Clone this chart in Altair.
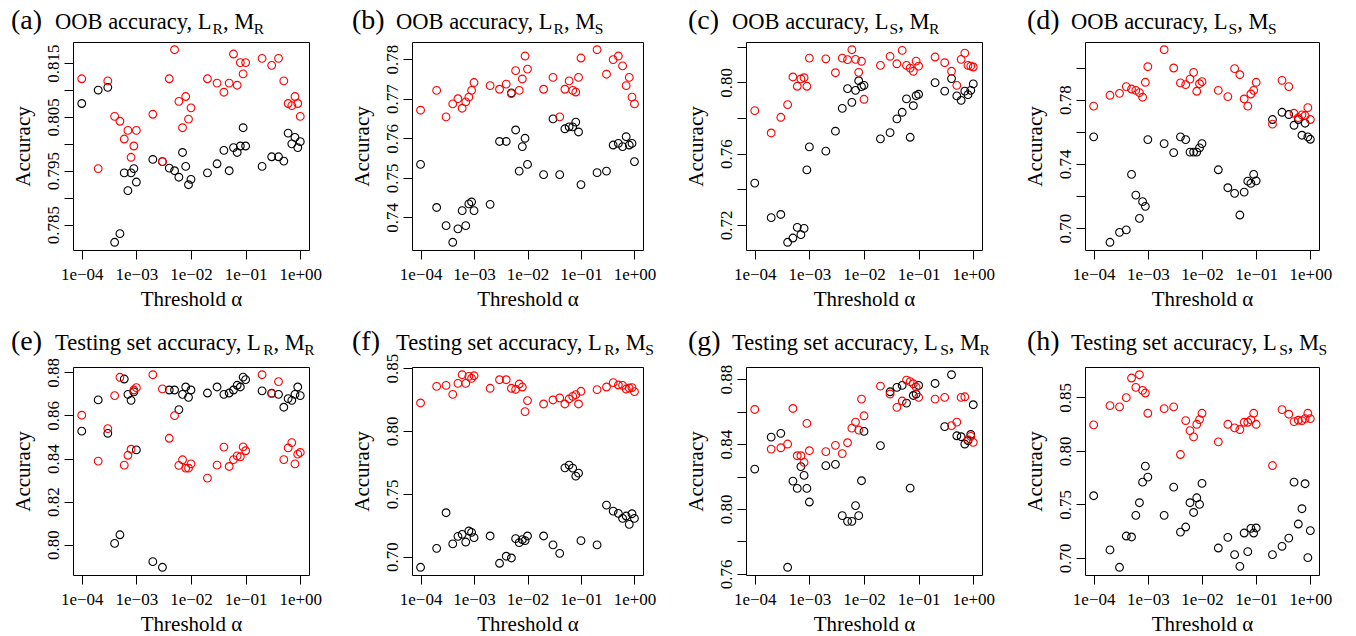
import math
import altair as alt
import pandas as pd

# ---------------- data ----------------
ALPHA = [0.0001, 0.0002, 0.0003, 0.0004, 0.0005, 0.0006, 0.0007, 0.0008, 0.0009,
         0.001, 0.002, 0.003, 0.004, 0.005, 0.006, 0.007, 0.008, 0.009,
         0.01, 0.02, 0.03, 0.04, 0.05, 0.06, 0.07, 0.08, 0.09,
         0.1, 0.2, 0.3, 0.4, 0.5, 0.6, 0.7, 0.8, 0.9, 1.0]

A_BLACK = [0.8075, 0.8100, 0.8105, 0.7817, 0.7833, 0.7946, 0.7913, 0.7946, 0.7954, 0.7929,
           0.7971, 0.7967, 0.7955, 0.7950, 0.7938, 0.7984, 0.7958, 0.7924, 0.7934,
           0.7946, 0.7963, 0.7988, 0.7950, 0.7993, 0.7984, 0.7996, 0.8030, 0.7996,
           0.7958, 0.7976, 0.7976, 0.7968, 0.8020, 0.8000, 0.8012, 0.7993, 0.8004]
A_RED = [0.8121, 0.7954, 0.8117, 0.8051, 0.8042, 0.8009, 0.8025, 0.7975, 0.7996, 0.8025,
         0.8055, 0.7967, 0.8121, 0.8175, 0.8079, 0.8030, 0.8088, 0.8046, 0.8067,
         0.8121, 0.8113, 0.8096, 0.8113, 0.8167, 0.8109, 0.8151, 0.8130, 0.8151,
         0.8159, 0.8146, 0.8159, 0.8117, 0.8075, 0.8071, 0.8088, 0.8075, 0.8051]
B_BLACK = [0.7534, 0.7425, 0.7379, 0.7337, 0.7371, 0.7417, 0.7379, 0.7434, 0.7439, 0.7417,
           0.7433, 0.7592, 0.7592, 0.7715, 0.7621, 0.7517, 0.7579, 0.7600, 0.7534,
           0.7508, 0.7649, 0.7508, 0.7624, 0.7629, 0.7629, 0.7641, 0.7616, 0.7483,
           0.7513, 0.7517, 0.7583, 0.7587, 0.7579, 0.7604, 0.7583, 0.7587, 0.7541]
B_RED = [0.7671, 0.7721, 0.7654, 0.7687, 0.7700, 0.7676, 0.7692, 0.7704, 0.7721, 0.7741,
         0.7733, 0.7724, 0.7737, 0.7713, 0.7771, 0.7721, 0.7750, 0.7808, 0.7775,
         0.7724, 0.7754, 0.7654, 0.7724, 0.7745, 0.7721, 0.7717, 0.7754, 0.7803,
         0.7824, 0.7762, 0.7799, 0.7808, 0.7783, 0.7733, 0.7754, 0.7704, 0.7687]
C_BLACK = [0.7435, 0.7241, 0.7259, 0.7103, 0.7127, 0.7187, 0.7146, 0.7181, 0.7509, 0.7638,
           0.7614, 0.7726, 0.7854, 0.7965, 0.7888, 0.7955, 0.8009, 0.7976, 0.7983,
           0.7683, 0.7718, 0.7795, 0.7832, 0.7907, 0.7692, 0.7869, 0.7925, 0.7933,
           0.7998, 0.7951, 0.8021, 0.7924, 0.7899, 0.7951, 0.7931, 0.7955, 0.7991]
C_RED = [0.7841, 0.7716, 0.7804, 0.7875, 0.8030, 0.7978, 0.8019, 0.8026, 0.7978, 0.8136,
         0.8132, 0.8054, 0.8136, 0.8127, 0.8183, 0.8129, 0.8056, 0.8118, 0.7905,
         0.8095, 0.8146, 0.8104, 0.8179, 0.8095, 0.8080, 0.8062, 0.8119, 0.8091,
         0.8142, 0.8110, 0.8062, 0.7983, 0.8129, 0.8164, 0.8095, 0.8091, 0.8086]
D_BLACK = [0.7568, 0.6911, 0.6973, 0.6988, 0.7334, 0.7205, 0.7060, 0.7164, 0.7135, 0.7551,
           0.7526, 0.7470, 0.7568, 0.7551, 0.7473, 0.7473, 0.7473, 0.7499, 0.7526,
           0.7363, 0.7251, 0.7216, 0.7081, 0.7224, 0.7292, 0.7278, 0.7334, 0.7294,
           0.7676, 0.7721, 0.7707, 0.7640, 0.7676, 0.7578, 0.7653, 0.7568, 0.7553]
D_RED = [0.7759, 0.7827, 0.7839, 0.7881, 0.7866, 0.7858, 0.7844, 0.7815, 0.7908, 0.8005,
         0.8111, 0.7997, 0.7904, 0.7893, 0.7928, 0.7970, 0.7852, 0.7899, 0.7912,
         0.7858, 0.7819, 0.7993, 0.7955, 0.7804, 0.7759, 0.7835, 0.7858, 0.7908,
         0.7647, 0.7920, 0.7881, 0.7715, 0.7688, 0.7705, 0.7701, 0.7750, 0.7676]
E_BLACK = [0.8527, 0.8672, 0.8517, 0.8006, 0.8046, 0.8769, 0.8698, 0.8670, 0.8709, 0.8440,
           0.7921, 0.7895, 0.8718, 0.8718, 0.8627, 0.8698, 0.8732, 0.8684, 0.8718,
           0.8704, 0.8732, 0.8698, 0.8704, 0.8718, 0.8740, 0.8732, 0.8778, 0.8766,
           0.8714, 0.8703, 0.8698, 0.8638, 0.8678, 0.8670, 0.8698, 0.8732, 0.8692]
E_RED = [0.8601, 0.8388, 0.8539, 0.8692, 0.8777, 0.8369, 0.8415, 0.8443, 0.8718, 0.8729,
         0.8789, 0.8723, 0.8494, 0.8599, 0.8368, 0.8394, 0.8355, 0.8355, 0.8375,
         0.8309, 0.8369, 0.8453, 0.8363, 0.8395, 0.8412, 0.8408, 0.8454, 0.8436,
         0.8789, 0.8701, 0.8757, 0.8395, 0.8449, 0.8474, 0.8375, 0.8420, 0.8428]
F_BLACK = [0.6915, 0.7066, 0.7349, 0.7101, 0.7161, 0.7177, 0.7116, 0.7204, 0.7193, 0.7151,
           0.7164, 0.6947, 0.7003, 0.6989, 0.7143, 0.7111, 0.7135, 0.7127, 0.7164,
           0.7164, 0.7093, 0.7026, 0.7706, 0.7728, 0.7704, 0.7640, 0.7664, 0.7127,
           0.7093, 0.7410, 0.7362, 0.7344, 0.7304, 0.7323, 0.7257, 0.7341, 0.7304]
F_RED = [0.8222, 0.8354, 0.8362, 0.8291, 0.8378, 0.8447, 0.8378, 0.8434, 0.8418, 0.8439,
         0.8339, 0.8407, 0.8407, 0.8339, 0.8331, 0.8373, 0.8349, 0.8153, 0.8241,
         0.8214, 0.8246, 0.8262, 0.8214, 0.8254, 0.8275, 0.8288, 0.8214, 0.8315,
         0.8328, 0.8349, 0.8384, 0.8365, 0.8362, 0.8333, 0.8341, 0.8344, 0.8312]
G_BLACK = [0.8246, 0.8443, 0.8466, 0.7641, 0.8172, 0.8127, 0.8261, 0.8207, 0.8127, 0.8043,
           0.8267, 0.8275, 0.7959, 0.7924, 0.7924, 0.8021, 0.7959, 0.8174, 0.8478,
           0.8390, 0.8722, 0.8749, 0.8761, 0.8652, 0.8129, 0.8699, 0.8708, 0.8761,
           0.8773, 0.8507, 0.8827, 0.8451, 0.8445, 0.8400, 0.8421, 0.8459, 0.8642]
G_RED = [0.8613, 0.8369, 0.8377, 0.8400, 0.8619, 0.8328, 0.8328, 0.8287, 0.8527, 0.8359,
         0.8353, 0.8392, 0.8341, 0.8408, 0.8498, 0.8535, 0.8486, 0.8677, 0.8574,
         0.8757, 0.8708, 0.8626, 0.8665, 0.8794, 0.8784, 0.8771, 0.8751, 0.8687,
         0.8677, 0.8687, 0.8513, 0.8535, 0.8687, 0.8691, 0.8427, 0.8447, 0.8410]
H_BLACK = [0.7581, 0.7075, 0.6913, 0.7205, 0.7196, 0.7398, 0.7516, 0.7708, 0.7857, 0.7755,
           0.7398, 0.7661, 0.7242, 0.7289, 0.7516, 0.7425, 0.7562, 0.7500, 0.7696,
           0.7093, 0.7193, 0.7031, 0.6922, 0.7233, 0.7059, 0.7276, 0.7233, 0.7280,
           0.7031, 0.7109, 0.7186, 0.7708, 0.7317, 0.7460, 0.7693, 0.7003, 0.7255]
H_RED = [0.8242, 0.8422, 0.8410, 0.8497, 0.8680, 0.8593, 0.8711, 0.8565, 0.8540, 0.8351,
         0.8394, 0.8410, 0.7966, 0.8283, 0.8189, 0.8130, 0.8248, 0.8292, 0.8351,
         0.8084, 0.8248, 0.8214, 0.8199, 0.8267, 0.8267, 0.8289, 0.8351, 0.8248,
         0.7863, 0.8385, 0.8342, 0.8273, 0.8286, 0.8283, 0.8301, 0.8351, 0.8301]

LETTERS = ["(a)", "(b)", "(c)", "(d)", "(e)", "(f)", "(g)", "(h)"]
KINDS = ["OOB accuracy", "OOB accuracy", "OOB accuracy", "OOB accuracy",
         "Testing set accuracy", "Testing set accuracy", "Testing set accuracy", "Testing set accuracy"]
L_SUB = ["R", "R", "S", "S", "R", "R", "S", "S"]
M_SUB = ["R", "S", "R", "S", "R", "S", "R", "S"]

Y_TICKS = [
    [0.785, 0.790, 0.795, 0.800, 0.805, 0.810, 0.815],
    [0.74, 0.75, 0.76, 0.77, 0.78],
    [0.72, 0.74, 0.76, 0.78, 0.80, 0.82],
    [0.70, 0.72, 0.74, 0.76, 0.78, 0.80],
    [0.80, 0.82, 0.84, 0.86, 0.88],
    [0.70, 0.75, 0.80, 0.85],
    [0.76, 0.78, 0.80, 0.82, 0.84, 0.86, 0.88],
    [0.70, 0.75, 0.80, 0.85],
]
Y_LABELS = [
    ["0.785", "", "0.795", "", "0.805", "", "0.815"],
    ["0.74", "0.75", "0.76", "0.77", "0.78"],
    ["0.72", "", "0.76", "", "0.80", ""],
    ["0.70", "", "0.74", "", "0.78", ""],
    ["0.80", "0.82", "0.84", "0.86", "0.88"],
    ["0.70", "0.75", "0.80", "0.85"],
    ["0.76", "", "0.80", "", "0.84", "", "0.88"],
    ["0.70", "0.75", "0.80", "0.85"],
]
X_TICKS = [0.0001, 0.001, 0.01, 0.1, 1.0]
X_LABELS = ["1e\u221204", "1e\u221203", "1e\u221202", "1e\u221201", "1e+00"]

BLACKS = [A_BLACK, B_BLACK, C_BLACK, D_BLACK, E_BLACK, F_BLACK, G_BLACK, H_BLACK]
REDS = [A_RED, B_RED, C_RED, D_RED, E_RED, F_RED, G_RED, H_RED]

# ---------------- style / layout ----------------
FONT = "Liberation Serif"
COL_W = [236, 231, 236, 234]
ROW_H = 208
TITLE_DX = [-62, -60, -58, -58]
TITLE_Y = [-13, -17]
LETTER_FS, MAIN_FS, SUB_FS, SUB_DY = 28, 22.5, 15.5, 5

TW = {' ': 250, '(': 333, ')': 333, ',': 250, 'a': 444, 'b': 500, 'c': 444, 'd': 500,
      'e': 444, 'f': 333, 'g': 500, 'h': 500, 'i': 278, 'n': 500, 's': 389, 't': 278,
      'u': 500, 'r': 333, 'y': 500, 'O': 722, 'B': 667, 'L': 611, 'M': 889, 'R': 667,
      'S': 556, 'T': 611}


def tw(s, size):
    return sum(TW.get(c, 500) for c in s) / 1000.0 * size


def text_layer(txt, x, y, size):
    return alt.Chart(pd.DataFrame({"t": [txt]})).mark_text(
        align="left", baseline="alphabetic", font=FONT, fontSize=size, color="black"
    ).encode(x=alt.value(x), y=alt.value(y), text="t:N")


def cond_expr(vals, labs):
    s = ""
    for v, l in zip(vals, labs):
        s += f"abs(datum.value-{v})<1e-6?'{l}':"
    return s + "''"


def x_expr():
    s = ""
    for v, l in zip(X_TICKS, X_LABELS):
        s += f"abs(log(datum.value)/LN10-({round(math.log10(v))}))<0.01?'{l}':"
    return s + "''"


def panel(i):
    col, row = i % 4, i // 4
    black, red = BLACKS[i], REDS[i]
    assert len(black) == len(ALPHA) and len(red) == len(ALPHA)
    allv = black + red
    lo, hi = min(allv), max(allv)
    pad = 0.04 * (hi - lo)
    df = pd.DataFrame({
        "alpha": ALPHA + ALPHA,
        "acc": black + red,
        "grp": ["black"] * len(ALPHA) + ["red"] * len(ALPHA),
    })
    pts = alt.Chart(df).mark_point(shape="circle", filled=False, size=60, strokeWidth=1.1, opacity=1).encode(
        x=alt.X("alpha:Q",
                scale=alt.Scale(type="log", domain=[10 ** -4.16, 10 ** 0.16], nice=False),
                axis=alt.Axis(values=X_TICKS, labelExpr=x_expr(), title="Threshold \u03b1",
                              tickSize=9, labelPadding=7, titlePadding=6,
                              labelFlush=False, labelOverlap=False)),
        y=alt.Y("acc:Q",
                scale=alt.Scale(domain=[lo - pad, hi + pad], nice=False, zero=False),
                axis=alt.Axis(values=Y_TICKS[i], labelExpr=cond_expr(Y_TICKS[i], Y_LABELS[i]),
                              title="Accuracy", labelAngle=270, labelAlign="center",
                              labelBaseline="bottom", tickSize=9, labelPadding=2,
                              titlePadding=11, labelFlush=False, labelOverlap=False)),
        color=alt.Color("grp:N", scale=alt.Scale(domain=["black", "red"], range=["#000000", "#ff0000"]),
                        legend=None),
    )
    x0 = TITLE_DX[col]
    y0 = TITLE_Y[row]
    x1 = x0 + 44
    main = KINDS[i] + ", L"
    x2 = x1 + tw(main, MAIN_FS) - 0.5
    mid = ", M"
    x3 = x2 + tw(L_SUB[i], SUB_FS)
    x4 = x3 + tw(mid, MAIN_FS) - 0.5
    layers = [
        pts,
        text_layer(LETTERS[i], x0, y0, LETTER_FS),
        text_layer(main, x1, y0, MAIN_FS),
        text_layer(L_SUB[i], x2, y0 + SUB_DY, SUB_FS),
        text_layer(mid, x3, y0, MAIN_FS),
        text_layer(M_SUB[i], x4, y0 + SUB_DY, SUB_FS),
    ]
    return alt.layer(*layers).properties(width=COL_W[col], height=ROW_H)


chart = alt.concat(
    *[panel(i) for i in range(8)],
    columns=4,
    spacing={"row": 117, "column": 103},
    bounds="flush",
    align="each",
).properties(
    padding={"left": 10, "top": 6, "right": 5, "bottom": 5},
    background="white",
).configure_view(
    stroke="black", strokeWidth=1
).configure_axis(
    labelFont=FONT, titleFont=FONT, labelFontSize=17, titleFontSize=21,
    labelColor="black", titleColor="black", tickColor="black", tickWidth=1,
    domain=False, grid=False, titleFontWeight="normal",
)

chart.save("out.html", embed_options={"renderer": "svg", "actions": False})
